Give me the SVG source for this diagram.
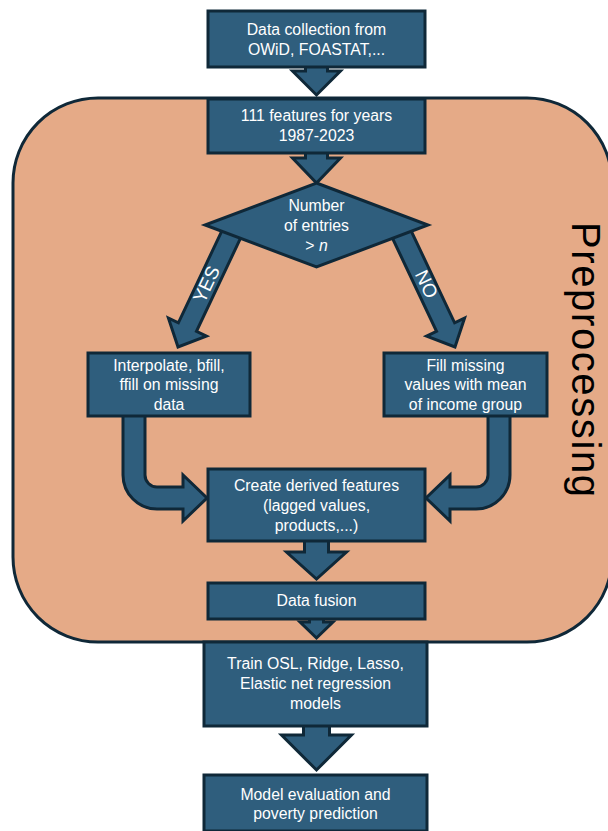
<svg xmlns="http://www.w3.org/2000/svg" width="608" height="831" viewBox="0 0 608 831">
<style>
.box{fill:#2f5e7d;stroke:#0f2838;stroke-width:3}
.arr{fill:#2f5e7d;stroke:#0f2838;stroke-width:3;stroke-linejoin:miter}
.t{font-family:"Liberation Sans",Arial,sans-serif;font-size:15.8px;fill:#ffffff;text-anchor:middle}
.lbl{font-family:"Liberation Sans",Arial,sans-serif;font-size:19px;fill:#ffffff;text-anchor:middle}
</style>
<rect width="608" height="831" fill="#ffffff"/>
<g id="preprocessing">
<rect x="13" y="98" width="599" height="544" rx="85" ry="85" fill="#e5aa87" stroke="#0f2838" stroke-width="3"/>
<text transform="translate(572,359.5) rotate(90)" font-family="'Liberation Sans',Arial,sans-serif" font-size="40" fill="#000000" text-anchor="middle" textLength="275" lengthAdjust="spacing">Preprocessing</text>
</g>
<g id="connectors">
<path class="arr" d="M305.5,66 V71 H292.5 L316.5,95 L340.5,71 H327.5 V66 Z"/>
<path class="arr" d="M305.5,152 V158 H292.5 L316.5,183 L340.5,158 H327.5 V152 Z"/>
<path class="arr" transform="translate(230.5,236) rotate(115.3)" d="M-12,-10 H100.8 V-21 L122.8,0 L100.8,21 V10 H-12 Z"/>
<path class="arr" transform="translate(402.5,236) rotate(64.7)" d="M-12,-10 H100.8 V-21 L122.8,0 L100.8,21 V10 H-12 Z"/>
<path class="arr" d="M123,415 V475 A34,34 0 0 0 157,509 H183 V521 L207,498 L183,475 V487 H157 A12,12 0 0 1 145,475 V415 Z"/>
<path class="arr" d="M510,415 V475 A34,34 0 0 1 476,509 H450 V521 L426,498 L450,475 V487 H476 A12,12 0 0 0 488,475 V415 Z"/>
<path class="arr" d="M304.5,540 V552 H286.5 L316.5,579 L346.5,552 H328.5 V540 Z"/>
<path class="arr" d="M309.5,618 V622 H300 L316.5,638 L333,622 H323.5 V618 Z"/>
<path class="arr" d="M303.5,725 V735 H281.5 L316.5,770 L351.5,735 H329.5 V725 Z"/>
<text class="lbl" transform="translate(206,284) rotate(-64.7)" y="7">YES</text>
<text class="lbl" transform="translate(427,284) rotate(64.7)" y="7">NO</text>
</g>
<g id="n1">
<rect class="box" x="208" y="11" width="217" height="56"/>
<text class="t" x="316.5" y="34.5">Data collection from</text>
<text class="t" x="316.5" y="54.5">OWiD, FOASTAT,...</text>
</g>
<g id="n2">
<rect class="box" x="208" y="99" width="217" height="54"/>
<text class="t" x="316.5" y="120.5">111 features for years</text>
<text class="t" x="316.5" y="140.5">1987-2023</text>
</g>
<g id="n3">
<polygon class="box" points="316.5,183 428,225 316.5,267 205,225"/>
<text class="t" x="316.5" y="210.5">Number</text>
<text class="t" x="316.5" y="230.5">of entries</text>
<text class="t" x="316.5" y="250.5">&gt; <tspan font-style="italic">n</tspan></text>
</g>
<g id="n4">
<rect class="box" x="88" y="353" width="162" height="63"/>
<text class="t" x="169" y="370.5">Interpolate, bfill,</text>
<text class="t" x="169" y="390">ffill on missing</text>
<text class="t" x="169" y="410">data</text>
</g>
<g id="n5">
<rect class="box" x="384" y="353" width="163" height="63"/>
<text class="t" x="465.5" y="370.5">Fill missing</text>
<text class="t" x="465.5" y="390">values with mean</text>
<text class="t" x="465.5" y="410">of income group</text>
</g>
<g id="n6">
<rect class="box" x="208" y="469" width="217" height="72"/>
<text class="t" x="316.5" y="491">Create derived features</text>
<text class="t" x="316.5" y="511">(lagged values,</text>
<text class="t" x="316.5" y="531">products,...)</text>
</g>
<g id="n7">
<rect class="box" x="208" y="583" width="217" height="36"/>
<text class="t" x="316.5" y="606">Data fusion</text>
</g>
<g id="n8">
<rect class="box" x="204" y="642" width="223" height="84"/>
<text class="t" x="315.5" y="669">Train OSL, Ridge, Lasso,</text>
<text class="t" x="315.5" y="689">Elastic net regression</text>
<text class="t" x="315.5" y="709">models</text>
</g>
<g id="n9">
<rect class="box" x="204" y="775" width="223" height="56"/>
<text class="t" x="315.5" y="800">Model evaluation and</text>
<text class="t" x="315.5" y="819">poverty prediction</text>
</g>
</svg>
